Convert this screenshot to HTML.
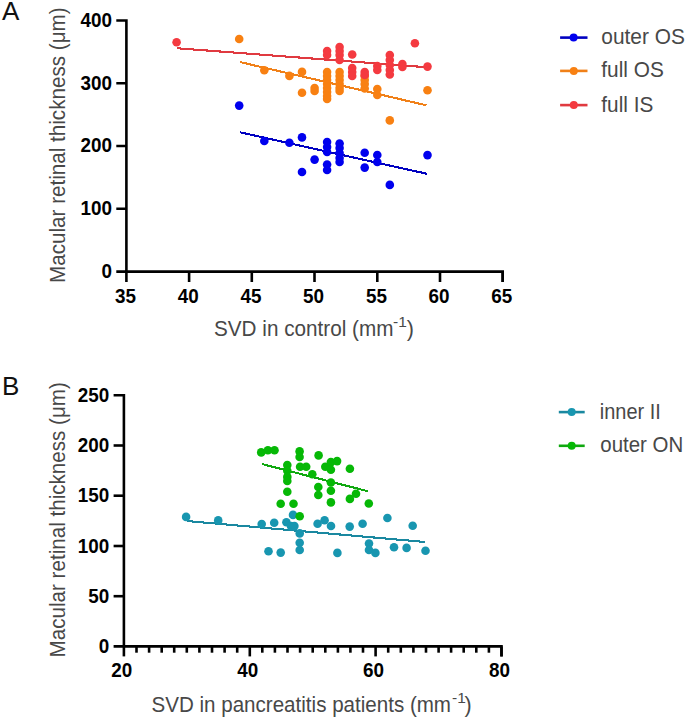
<!DOCTYPE html>
<html><head><meta charset="utf-8"><style>
html,body{margin:0;padding:0;background:#fff;width:685px;height:717px;overflow:hidden}
svg{display:block;font-family:"Liberation Sans",sans-serif}
</style></head><body>
<svg width="685" height="717" viewBox="0 0 685 717">
<text x="2" y="20.4" font-size="26" fill="#111">A</text><text x="2" y="395" font-size="26" fill="#111">B</text><g stroke="#000" stroke-width="2.6" fill="none"><path d="M126.4 20.5 V271.6 M116.3 20.5 H127.7 M116.3 83.3 H126.4 M116.3 146.05 H126.4 M116.3 208.8 H126.4 M116.3 271.6 H502.7 V282"/><path d="M126.4 271.6 V282"/><path d="M189.1 271.6 V282"/><path d="M251.8 271.6 V282"/><path d="M314.5 271.6 V282"/><path d="M377.3 271.6 V282"/><path d="M440.0 271.6 V282"/><path d="M502.7 271.6 V282"/></g><g font-size="20" font-weight="bold" fill="#000" text-anchor="end"><text x="112" y="278.0" textLength="10.5" lengthAdjust="spacingAndGlyphs">0</text><text x="112" y="215.2" textLength="31.5" lengthAdjust="spacingAndGlyphs">100</text><text x="112" y="152.4" textLength="31.5" lengthAdjust="spacingAndGlyphs">200</text><text x="112" y="89.7" textLength="31.5" lengthAdjust="spacingAndGlyphs">300</text><text x="112" y="26.9" textLength="31.5" lengthAdjust="spacingAndGlyphs">400</text></g><g font-size="20" font-weight="bold" fill="#000" text-anchor="middle"><text x="125.5" y="302.5" textLength="21" lengthAdjust="spacingAndGlyphs">35</text><text x="188.2" y="302.5" textLength="21" lengthAdjust="spacingAndGlyphs">40</text><text x="250.9" y="302.5" textLength="21" lengthAdjust="spacingAndGlyphs">45</text><text x="313.6" y="302.5" textLength="21" lengthAdjust="spacingAndGlyphs">50</text><text x="376.4" y="302.5" textLength="21" lengthAdjust="spacingAndGlyphs">55</text><text x="439.1" y="302.5" textLength="21" lengthAdjust="spacingAndGlyphs">60</text><text x="501.8" y="302.5" textLength="21" lengthAdjust="spacingAndGlyphs">65</text></g><g stroke="#000" stroke-width="2.6" fill="none"><path d="M123.9 395.3 V646.4 M113.6 395.3 H125.2 M113.6 646.4 H501.5 V656.4"/><path d="M113.6 596.2 H123.9"/><path d="M113.6 546.0 H123.9"/><path d="M113.6 495.7 H123.9"/><path d="M113.6 445.5 H123.9"/><path d="M123.9 646.4 V656.4"/><path d="M136.5 646.4 V652.7"/><path d="M149.1 646.4 V652.7"/><path d="M161.7 646.4 V652.7"/><path d="M174.2 646.4 V652.7"/><path d="M186.8 646.4 V652.7"/><path d="M199.4 646.4 V652.7"/><path d="M212.0 646.4 V652.7"/><path d="M224.6 646.4 V652.7"/><path d="M237.2 646.4 V652.7"/><path d="M249.8 646.4 V656.4"/><path d="M262.3 646.4 V652.7"/><path d="M274.9 646.4 V652.7"/><path d="M287.5 646.4 V652.7"/><path d="M300.1 646.4 V652.7"/><path d="M312.7 646.4 V652.7"/><path d="M325.3 646.4 V652.7"/><path d="M337.9 646.4 V652.7"/><path d="M350.4 646.4 V652.7"/><path d="M363.0 646.4 V652.7"/><path d="M375.6 646.4 V656.4"/><path d="M388.2 646.4 V652.7"/><path d="M400.8 646.4 V652.7"/><path d="M413.4 646.4 V652.7"/><path d="M426.0 646.4 V652.7"/><path d="M438.6 646.4 V652.7"/><path d="M451.1 646.4 V652.7"/><path d="M463.7 646.4 V652.7"/><path d="M476.3 646.4 V652.7"/><path d="M488.9 646.4 V652.7"/><path d="M501.5 646.4 V656.4"/></g><g font-size="20" font-weight="bold" fill="#000" text-anchor="end"><text x="109.3" y="652.9" textLength="10.5" lengthAdjust="spacingAndGlyphs">0</text><text x="109.3" y="602.7" textLength="21.0" lengthAdjust="spacingAndGlyphs">50</text><text x="109.3" y="552.5" textLength="31.5" lengthAdjust="spacingAndGlyphs">100</text><text x="109.3" y="502.2" textLength="31.5" lengthAdjust="spacingAndGlyphs">150</text><text x="109.3" y="452.0" textLength="31.5" lengthAdjust="spacingAndGlyphs">200</text><text x="109.3" y="401.8" textLength="31.5" lengthAdjust="spacingAndGlyphs">250</text></g><g font-size="20" font-weight="bold" fill="#000" text-anchor="middle"><text x="121.8" y="677.2" textLength="21" lengthAdjust="spacingAndGlyphs">20</text><text x="247.7" y="677.2" textLength="21" lengthAdjust="spacingAndGlyphs">40</text><text x="373.5" y="677.2" textLength="21" lengthAdjust="spacingAndGlyphs">60</text><text x="499.4" y="677.2" textLength="21" lengthAdjust="spacingAndGlyphs">80</text></g><text transform="translate(65.1 145.15) rotate(-90)" text-anchor="middle" font-size="21.5" textLength="275.5" lengthAdjust="spacingAndGlyphs" fill="#484848">Macular retinal thickness (μm)</text><text transform="translate(65.1 519.8) rotate(-90)" text-anchor="middle" font-size="21.5" textLength="275.2" lengthAdjust="spacingAndGlyphs" fill="#484848">Macular retinal thickness (μm)</text><text x="214" y="336.3" font-size="21.5" fill="#484848"><tspan textLength="179.5" lengthAdjust="spacingAndGlyphs">SVD in control (mm</tspan><tspan font-size="15.5" dx="-0.5" dy="-9">-1</tspan><tspan dx="0" dy="9">)</tspan></text><text x="151.5" y="711.5" font-size="21.5" fill="#484848"><tspan textLength="299.5" lengthAdjust="spacingAndGlyphs">SVD in pancreatitis patients (mm</tspan><tspan font-size="15.5" dx="1" dy="-9">-1</tspan><tspan dx="-1.2" dy="9">)</tspan></text><g stroke-width="2.1" fill="none" shape-rendering="crispEdges"><path stroke="#E03A40" d="M176.6 48.2 L427.6 67.3"/><path stroke="#F08018" d="M240.1 62.1 L426.5 105.3"/><path stroke="#0000C0" d="M239.9 132.3 L427 173.8"/><path stroke="#1A88A0" d="M186.7 521 L425 542"/><path stroke="#10A810" d="M262.3 464.1 L367.7 491.2"/></g><g fill="#0000EE"><circle cx="239.2" cy="105.6" r="4.3"/><circle cx="264.3" cy="141.0" r="4.3"/><circle cx="289.4" cy="142.8" r="4.3"/><circle cx="302.0" cy="137.4" r="4.3"/><circle cx="302.0" cy="172.0" r="4.3"/><circle cx="314.6" cy="159.6" r="4.3"/><circle cx="327.1" cy="142.0" r="4.3"/><circle cx="327.1" cy="147.0" r="4.3"/><circle cx="327.1" cy="152.0" r="4.3"/><circle cx="327.1" cy="164.5" r="4.3"/><circle cx="327.1" cy="170.0" r="4.3"/><circle cx="339.6" cy="143.5" r="4.3"/><circle cx="339.6" cy="148.0" r="4.3"/><circle cx="339.6" cy="153.0" r="4.3"/><circle cx="339.6" cy="158.0" r="4.3"/><circle cx="339.6" cy="162.0" r="4.3"/><circle cx="364.7" cy="152.8" r="4.3"/><circle cx="364.7" cy="167.6" r="4.3"/><circle cx="377.3" cy="155.0" r="4.3"/><circle cx="377.3" cy="162.0" r="4.3"/><circle cx="389.8" cy="184.9" r="4.3"/><circle cx="427.5" cy="155.1" r="4.3"/></g><g fill="#F88012"><circle cx="239.2" cy="39.0" r="4.3"/><circle cx="264.3" cy="70.3" r="4.3"/><circle cx="289.4" cy="75.9" r="4.3"/><circle cx="302.0" cy="71.9" r="4.3"/><circle cx="302.0" cy="92.8" r="4.3"/><circle cx="314.6" cy="88.0" r="4.3"/><circle cx="314.6" cy="91.0" r="4.3"/><circle cx="327.1" cy="72.0" r="4.3"/><circle cx="327.1" cy="76.0" r="4.3"/><circle cx="327.1" cy="80.0" r="4.3"/><circle cx="327.1" cy="84.0" r="4.3"/><circle cx="327.1" cy="88.0" r="4.3"/><circle cx="327.1" cy="92.0" r="4.3"/><circle cx="327.1" cy="96.0" r="4.3"/><circle cx="327.1" cy="99.0" r="4.3"/><circle cx="339.6" cy="72.0" r="4.3"/><circle cx="339.6" cy="76.0" r="4.3"/><circle cx="339.6" cy="80.0" r="4.3"/><circle cx="339.6" cy="84.0" r="4.3"/><circle cx="339.6" cy="88.0" r="4.3"/><circle cx="339.6" cy="91.0" r="4.3"/><circle cx="364.7" cy="76.0" r="4.3"/><circle cx="364.7" cy="80.0" r="4.3"/><circle cx="364.7" cy="84.0" r="4.3"/><circle cx="364.7" cy="88.5" r="4.3"/><circle cx="377.3" cy="89.0" r="4.3"/><circle cx="377.3" cy="95.0" r="4.3"/><circle cx="389.8" cy="120.4" r="4.3"/><circle cx="427.5" cy="90.3" r="4.3"/></g><g fill="#F43A40"><circle cx="176.6" cy="42.3" r="4.3"/><circle cx="327.1" cy="51.0" r="4.3"/><circle cx="327.1" cy="55.0" r="4.3"/><circle cx="339.6" cy="47.0" r="4.3"/><circle cx="339.6" cy="51.0" r="4.3"/><circle cx="339.6" cy="55.0" r="4.3"/><circle cx="339.6" cy="60.0" r="4.3"/><circle cx="352.2" cy="54.5" r="4.3"/><circle cx="352.2" cy="68.0" r="4.3"/><circle cx="352.2" cy="72.0" r="4.3"/><circle cx="352.2" cy="76.0" r="4.3"/><circle cx="364.7" cy="72.0" r="4.3"/><circle cx="364.7" cy="75.0" r="4.3"/><circle cx="377.3" cy="66.0" r="4.3"/><circle cx="377.3" cy="70.0" r="4.3"/><circle cx="389.8" cy="55.0" r="4.3"/><circle cx="389.8" cy="60.0" r="4.3"/><circle cx="389.8" cy="65.0" r="4.3"/><circle cx="389.8" cy="70.0" r="4.3"/><circle cx="389.8" cy="74.5" r="4.3"/><circle cx="402.4" cy="64.0" r="4.3"/><circle cx="402.4" cy="67.0" r="4.3"/><circle cx="414.9" cy="43.2" r="4.3"/><circle cx="427.5" cy="66.6" r="4.3"/></g><g fill="#1896B0"><circle cx="186.1" cy="516.9" r="4.3"/><circle cx="218.2" cy="520.4" r="4.3"/><circle cx="261.7" cy="524.1" r="4.3"/><circle cx="274.2" cy="522.8" r="4.3"/><circle cx="286.4" cy="522.2" r="4.3"/><circle cx="293.0" cy="514.9" r="4.3"/><circle cx="291.0" cy="526.1" r="4.3"/><circle cx="294.4" cy="526.1" r="4.3"/><circle cx="299.7" cy="533.4" r="4.3"/><circle cx="299.7" cy="542.7" r="4.3"/><circle cx="299.7" cy="550.0" r="4.3"/><circle cx="268.5" cy="551.3" r="4.3"/><circle cx="280.7" cy="552.6" r="4.3"/><circle cx="317.6" cy="523.7" r="4.3"/><circle cx="324.6" cy="520.2" r="4.3"/><circle cx="331.0" cy="526.0" r="4.3"/><circle cx="349.7" cy="526.6" r="4.3"/><circle cx="362.6" cy="523.7" r="4.3"/><circle cx="387.4" cy="518.0" r="4.3"/><circle cx="337.4" cy="552.9" r="4.3"/><circle cx="369.0" cy="543.5" r="4.3"/><circle cx="369.0" cy="550.0" r="4.3"/><circle cx="375.4" cy="552.9" r="4.3"/><circle cx="412.7" cy="525.7" r="4.3"/><circle cx="394.0" cy="547.3" r="4.3"/><circle cx="406.6" cy="547.9" r="4.3"/><circle cx="425.5" cy="550.8" r="4.3"/></g><g fill="#06B806"><circle cx="261.2" cy="452.4" r="4.3"/><circle cx="267.9" cy="450.3" r="4.3"/><circle cx="274.5" cy="450.3" r="4.3"/><circle cx="299.6" cy="451.4" r="4.3"/><circle cx="299.6" cy="457.0" r="4.3"/><circle cx="287.3" cy="465.1" r="4.3"/><circle cx="287.3" cy="470.8" r="4.3"/><circle cx="287.3" cy="476.9" r="4.3"/><circle cx="287.3" cy="481.0" r="4.3"/><circle cx="300.1" cy="466.7" r="4.3"/><circle cx="306.2" cy="466.7" r="4.3"/><circle cx="312.3" cy="474.3" r="4.3"/><circle cx="318.6" cy="455.4" r="4.3"/><circle cx="318.3" cy="487.0" r="4.3"/><circle cx="318.3" cy="495.0" r="4.3"/><circle cx="299.7" cy="516.2" r="4.3"/><circle cx="287.3" cy="491.7" r="4.3"/><circle cx="280.7" cy="503.8" r="4.3"/><circle cx="293.5" cy="503.8" r="4.3"/><circle cx="325.3" cy="466.7" r="4.3"/><circle cx="330.9" cy="462.1" r="4.3"/><circle cx="337.1" cy="461.1" r="4.3"/><circle cx="330.9" cy="469.7" r="4.3"/><circle cx="349.9" cy="468.7" r="4.3"/><circle cx="330.9" cy="482.5" r="4.3"/><circle cx="330.9" cy="490.7" r="4.3"/><circle cx="330.9" cy="502.4" r="4.3"/><circle cx="356.0" cy="493.8" r="4.3"/><circle cx="349.9" cy="498.9" r="4.3"/><circle cx="368.8" cy="503.5" r="4.3"/></g><path d="M560.1 37.6 H587.5" stroke="#0000C0" stroke-width="2.6"/><circle cx="573.6" cy="37.6" r="4" fill="#0000EE"/><text x="601.3" y="44" font-size="21.5" textLength="83.5" lengthAdjust="spacingAndGlyphs" fill="#484848">outer OS</text><path d="M560.1 70.9 H587.5" stroke="#F08018" stroke-width="2.6"/><circle cx="573.8" cy="70.9" r="4" fill="#F88012"/><text x="601.3" y="77.3" font-size="21.5" textLength="62.5" lengthAdjust="spacingAndGlyphs" fill="#484848">full OS</text><path d="M560.1 105.1 H587.5" stroke="#E03A40" stroke-width="2.6"/><circle cx="573.8" cy="105.1" r="4" fill="#F43A40"/><text x="601.3" y="111.5" font-size="21.5" textLength="52" lengthAdjust="spacingAndGlyphs" fill="#484848">full IS</text><path d="M558.8 412.1 H584.7" stroke="#1A88A0" stroke-width="2.6"/><circle cx="571.7" cy="412.1" r="4" fill="#1896B0"/><text x="599.8" y="418.9" font-size="21.5" textLength="61" lengthAdjust="spacingAndGlyphs" fill="#484848">inner II</text><path d="M558.8 445.8 H584.7" stroke="#10A810" stroke-width="2.6"/><circle cx="571.7" cy="445.8" r="4" fill="#06B806"/><text x="600.3" y="452.1" font-size="21.5" textLength="83" lengthAdjust="spacingAndGlyphs" fill="#484848">outer ON</text>
</svg></body></html>
